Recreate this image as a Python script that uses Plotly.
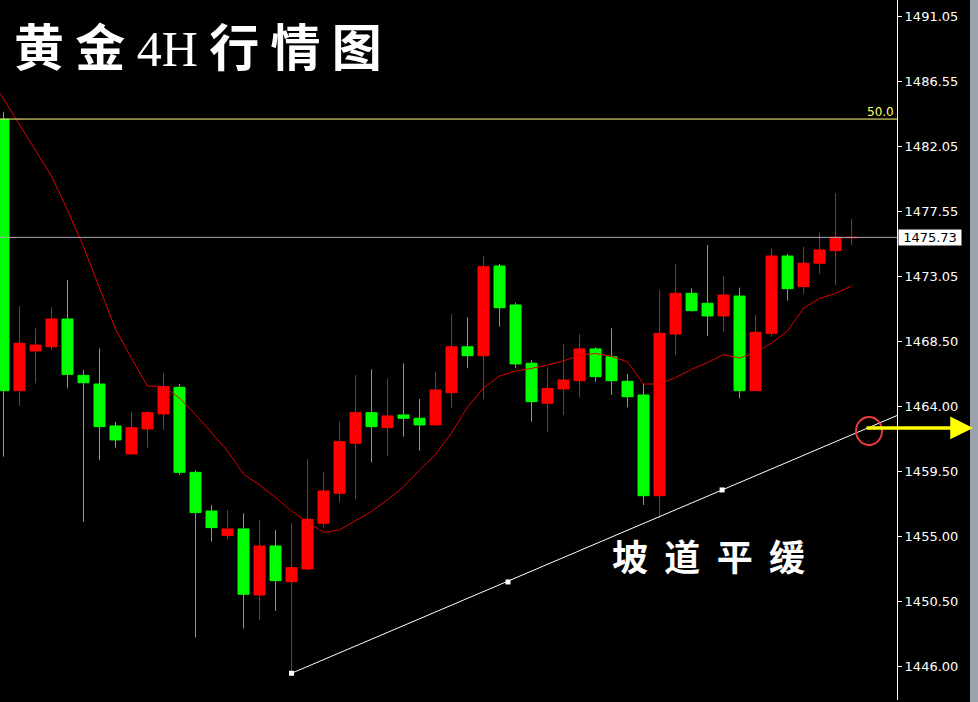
import plotly.graph_objects as go

# ---- data ----
idx = list(range(54))
opens = [1483.90, 1465.12, 1467.87, 1468.16, 1470.08, 1466.18, 1465.58, 1462.68, 1460.74, 1462.47,
         1463.51, 1465.35, 1459.47, 1456.79, 1455.09, 1455.55, 1450.98, 1454.37, 1451.90, 1452.78,
         1455.94, 1458.02, 1461.48, 1463.60, 1462.56, 1463.44, 1463.21, 1462.75, 1464.98, 1468.16,
         1467.54, 1473.75, 1471.05, 1467.02, 1464.25, 1465.24, 1465.81, 1468.01, 1467.47, 1465.77,
         1464.82, 1457.85, 1469.04, 1471.86, 1471.17, 1470.29, 1471.67, 1465.12, 1469.09, 1474.44,
         1472.32, 1473.94, 1474.81, 1475.70]
highs = [1484.43, 1470.98, 1469.44, 1470.89, 1472.78, 1466.55, 1468.05, 1462.97, 1463.67, 1463.71,
         1466.32, 1465.58, 1459.60, 1457.21, 1456.86, 1456.63, 1456.17, 1455.48, 1455.94, 1460.37,
         1459.51, 1462.97, 1466.20, 1466.60, 1465.98, 1467.01, 1464.55, 1466.43, 1470.43, 1470.20,
         1474.44, 1473.89, 1471.21, 1467.24, 1466.78, 1468.35, 1469.04, 1468.12, 1469.44, 1466.27,
         1465.58, 1472.09, 1473.89, 1472.21, 1475.20, 1473.06, 1472.25, 1470.36, 1474.97, 1474.58,
         1475.08, 1476.08, 1478.78, 1476.98]
lows = [1460.55, 1464.06, 1465.63, 1467.94, 1465.29, 1456.05, 1460.32, 1461.18, 1460.74, 1461.18,
        1462.40, 1459.29, 1448.05, 1454.67, 1454.84, 1448.67, 1449.25, 1449.87, 1445.56, 1452.70,
        1455.66, 1457.40, 1457.60, 1460.16, 1460.60, 1461.94, 1460.97, 1462.70, 1463.90, 1466.67,
        1464.52, 1469.55, 1466.67, 1462.97, 1462.29, 1463.44, 1464.63, 1465.74, 1464.82, 1463.97,
        1457.21, 1456.31, 1467.59, 1470.59, 1468.90, 1469.20, 1464.59, 1465.10, 1468.86, 1471.35,
        1471.81, 1473.20, 1472.43, 1475.20]
closes = [1465.12, 1468.40, 1468.28, 1470.08, 1466.25, 1465.67, 1462.63, 1461.71, 1462.56, 1463.60,
          1465.40, 1459.47, 1456.68, 1455.64, 1455.55, 1451.03, 1454.37, 1451.97, 1452.87, 1456.22,
          1458.18, 1461.59, 1463.60, 1462.63, 1463.37, 1463.21, 1462.75, 1465.17, 1468.16, 1467.54,
          1473.70, 1470.86, 1466.97, 1464.36, 1465.28, 1465.86, 1468.01, 1466.09, 1465.81, 1464.70,
          1457.85, 1469.09, 1471.86, 1470.66, 1470.29, 1471.74, 1465.12, 1469.16, 1474.44, 1472.18,
          1473.94, 1474.86, 1475.74, 1475.73]

ma_x = [-1] + idx
ma_vals = [1487.10, 1485.33, 1483.52, 1481.80, 1479.97, 1477.62, 1475.08, 1472.23, 1469.39, 1467.35,
           1465.44, 1465.41, 1464.61, 1463.47, 1462.24, 1460.95, 1459.35, 1458.59, 1457.72, 1456.79,
           1456.03, 1455.31, 1455.48, 1456.10, 1456.76, 1457.56, 1458.46, 1459.63, 1460.70, 1462.19,
           1463.98, 1465.31, 1466.14, 1466.48, 1466.66, 1466.90, 1467.18, 1467.59, 1467.69, 1467.49,
           1467.11, 1465.58, 1465.58, 1466.03, 1466.59, 1467.07, 1467.62, 1467.38, 1467.76, 1468.42,
           1469.25, 1470.84, 1471.50, 1471.85, 1472.37]

trend_x = [18, 55.84]
trend_y = [1445.56, 1463.40]
trend_pts_x = [18, 31.53, 44.91]
trend_pts_y = [1445.56, 1451.88, 1458.25]

fib_level = 1483.92
fib_label = "50.0"
last_price = 1475.73

tick_vals = [1491.05, 1486.55, 1482.05, 1477.55, 1473.05, 1468.50, 1464.00, 1459.50, 1455.00, 1450.50, 1446.00]
tick_text = ["1491.05", "1486.55", "1482.05", "1477.55", "1473.05", "1468.50", "1464.00", "1459.50",
             "1455.00", "1450.50", "1446.00"]

title_cn1 = "黄金"
title_mid = "4H"
title_cn2 = "行情图"
note_text = "坡道平缓"

# ---- layout constants ----
W, H = 978, 702
PLOT_W, PLOT_H = 897, 700
X_RANGE = [-0.219, 55.84]
Y_RANGE = [1443.71, 1492.16]


def px(x):
    return x / PLOT_W


def py(y):
    return 1 - y / PLOT_H


fig = go.Figure()

fig.add_trace(go.Candlestick(
    x=idx, open=opens, high=highs, low=lows, close=closes,
    increasing=dict(line=dict(color="#ff0000", width=1), fillcolor="#ff0000"),
    decreasing=dict(line=dict(color="#00ff00", width=1), fillcolor="#00ff00"),
    whiskerwidth=0, showlegend=False, hoverinfo="skip",
))

fig.add_trace(go.Scatter(x=ma_x, y=ma_vals, mode="lines",
                         line=dict(color="#e00000", width=1), showlegend=False, hoverinfo="skip"))

fig.add_trace(go.Scatter(x=trend_x, y=trend_y, mode="lines",
                         line=dict(color="#ffffff", width=1), showlegend=False, hoverinfo="skip"))
fig.add_trace(go.Scatter(x=trend_pts_x, y=trend_pts_y, mode="markers",
                         marker=dict(symbol="square", size=5, color="#ffffff"),
                         showlegend=False, hoverinfo="skip"))

shapes = [
    dict(type="line", xref="paper", x0=0, x1=1, yref="y", y0=fib_level, y1=fib_level,
         line=dict(color="#ffff80", width=1)),
    dict(type="line", xref="paper", x0=0, x1=1, yref="y", y0=last_price, y1=last_price,
         line=dict(color="#a8a8b8", width=1)),
    # red circle where the trendline meets the arrow
    dict(type="circle", xref="x", yref="y", xsizemode="pixel", ysizemode="pixel",
         xanchor=54.09, yanchor=1462.33, x0=-13, x1=13, y0=-14, y1=14,
         line=dict(color="#e83c3c", width=2)),
    # window edge strip on the far right
    dict(type="rect", xref="paper", yref="paper", x0=1.0814, x1=1.1, y0=-0.01, y1=1.01,
         fillcolor="#9aa2b0", line=dict(width=0, color="#9aa2b0"), layer="above"),
]

annotations = [
    dict(xref="paper", yref="paper", x=px(970), y=1.0, xanchor="left", yanchor="top",
         width=10, height=H, text="&nbsp;", showarrow=False, bgcolor="#9aa2b0", borderpad=0,
         font=dict(size=10, color="#9aa2b0")),
    dict(xref="paper", yref="paper", x=px(12), y=py(6), xanchor="left", yanchor="top",
         text=" ".join(title_cn1) + " <span style='font-family:Liberation Serif;font-weight:normal'>"
              + title_mid + "</span> " + " ".join(title_cn2),
         showarrow=False, font=dict(family="Noto Sans CJK SC", size=50, color="#ffffff", weight="bold")),
    dict(xref="paper", yref="paper", x=px(610), y=py(527), xanchor="left", yanchor="top",
         text="  ".join(note_text), showarrow=False,
         font=dict(family="Noto Sans CJK SC", size=36, color="#ffffff", weight="bold")),
    dict(xref="paper", yref="y", x=1, y=fib_level, xanchor="right", yanchor="bottom",
         text=fib_label, showarrow=False, font=dict(family="DejaVu Sans", size=12, color="#ffff66"),
         xshift=-1, yshift=-2),
    dict(xref="paper", yref="y", x=1, y=last_price, xanchor="left", yanchor="middle",
         text=" " + f"{last_price:.2f}" + " ", showarrow=False, bgcolor="#ffffff",
         font=dict(family="DejaVu Sans", size=13, color="#000000"), xshift=1, borderpad=0),
    # yellow arrow pointing right
    dict(xref="paper", yref="y", x=px(973), y=1462.54, ax=-108, ay=0, axref="pixel", ayref="pixel",
         showarrow=True, arrowhead=2, arrowsize=1.3, arrowwidth=3.5, arrowcolor="#ffff00", text=""),
]

fig.update_layout(
    width=W, height=H,
    margin=dict(l=0, r=W - PLOT_W, t=0, b=H - PLOT_H),
    paper_bgcolor="#000000", plot_bgcolor="#000000",
    shapes=shapes, annotations=annotations,
    boxgap=0.31, boxgroupgap=0,
    xaxis=dict(range=X_RANGE, visible=False, rangeslider=dict(visible=False), fixedrange=True),
    yaxis=dict(range=Y_RANGE, side="right", showgrid=False, zeroline=False,
               showline=True, linecolor="#ffffff", linewidth=1, mirror=False,
               ticks="outside", ticklen=4, tickcolor="#ffffff",
               tickvals=tick_vals, ticktext=tick_text, fixedrange=True,
               tickfont=dict(family="DejaVu Sans", size=13, color="#ffffff")),
    font=dict(family="DejaVu Sans", color="#ffffff"),
)

fig.write_html("out.html", config={"displayModeBar": False},
               post_script="document.body.style.margin='0';document.body.style.background='#000';")
